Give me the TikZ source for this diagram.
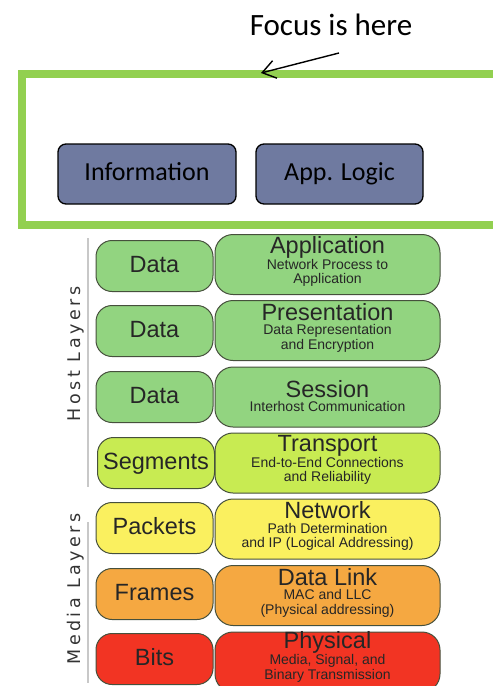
\documentclass[tikz,border=0pt]{standalone}
\usepackage{fontspec}
\setmainfont{Liberation Sans}
\newfontfamily\calibri{Carlito}
\newfontfamily\spacedsans[LetterSpace=20]{DejaVu Sans}
\usetikzlibrary{positioning,arrows.meta}

\definecolor{focusgreen}{RGB}{146,208,80}
\definecolor{slate}{RGB}{111,122,160}
\definecolor{hostgreen}{RGB}{146,212,128}
\definecolor{seggreen}{RGB}{200,235,82}
\definecolor{pktyellow}{RGB}{250,240,95}
\definecolor{frmorange}{RGB}{245,168,65}
\definecolor{bitred}{RGB}{242,52,35}
\definecolor{edgegray}{RGB}{70,80,60}
\definecolor{sidegray}{RGB}{200,200,200}

\begin{document}
\begin{tikzpicture}[
			x=1pt, y=-1pt,
			every node/.style={font=\calibri},
			appbox/.style={rectangle, rounded corners=8pt, draw=black, line width=1.3pt, fill=slate, minimum height=60pt, text height=17pt, text depth=5pt, font=\calibri\fontsize{26}{28}\selectfont},
			pdu/.style={rectangle, rounded corners=16pt, draw=edgegray, line width=1pt, minimum width=117pt, minimum height=51pt, text height=17pt, text depth=5pt, font=\fontsize{23.5}{24}\selectfont, text=black!85},
			layer/.style={rectangle, rounded corners=18pt, draw=edgegray, line width=1pt, minimum width=225pt, minimum height=60pt},
			layertext/.style={align=center, font=\fontsize{14}{14.5}\selectfont, text=black!85, inner sep=0pt},
			side/.style={rotate=90, font=\spacedsans\fontsize{17.5}{20}\selectfont, text=black!80}
			]
			
			\useasboundingbox (0,0) rectangle (493,686);
			
			% the upper part
			\node (focus) at (259.5,149.5) [draw=focusgreen, line width=8.5pt, minimum width=475pt, minimum height=151pt] {};
			\node (info) at (147,174) [appbox, minimum width=178pt] {Information};
			\node (logic) at (339.5,174) [appbox, minimum width=167pt] {App. Logic};
			
			\node (note) at (331,35) [anchor=base, font=\calibri\fontsize{31}{33}\selectfont] {Focus is here};
			\coordinate (tail) at (339,53);
			\coordinate (tip) at (261,73);
			\draw [-{Straight Barb[length=13pt,width=18pt]}, line width=1.4pt] (tail) -- (tip);
			
			% the OSI stack
			\node (d7) at (154.5,266) [pdu, fill=hostgreen] {Data};
			\node (l7) at (327.5,264.5) [layer, fill=hostgreen] {};
			\node (t7) at ([yshift=3pt]l7) [layertext] {{\fontsize{23.5}{24}\selectfont Application}\\Network Process to\\Application};
			
			\node (d6) at (154.5,331) [pdu, fill=hostgreen] {Data};
			\node (l6) at (327.5,330.5) [layer, fill=hostgreen] {};
			\node (t6) at ([yshift=3pt]l6) [layertext] {{\fontsize{23.5}{24}\selectfont Presentation}\\Data Representation\\and Encryption};
			
			\node (d5) at (154.5,397) [pdu, fill=hostgreen] {Data};
			\node (l5) at (327.5,397) [layer, fill=hostgreen] {};
			\node (t5) at ([yshift=1pt]l5) [layertext] {{\fontsize{23.5}{24}\selectfont Session}\\Interhost Communication};
			
			\node (d4) at (156,463) [pdu, fill=seggreen] {Segments};
			\node (l4) at (327.5,463) [layer, fill=seggreen] {};
			\node (t4) at ([yshift=3pt]l4) [layertext] {{\fontsize{23.5}{24}\selectfont Transport}\\End-to-End Connections\\and Reliability};
			
			\node (d3) at (154.5,528) [pdu, fill=pktyellow] {Packets};
			\node (l3) at (327.5,529) [layer, fill=pktyellow] {};
			\node (t3) at ([yshift=3pt]l3) [layertext] {{\fontsize{23.5}{24}\selectfont Network}\\Path Determination\\and IP (Logical Addressing)};
			
			\node (d2) at (154.5,594) [pdu, fill=frmorange] {Frames};
			\node (l2) at (327.5,595.5) [layer, fill=frmorange] {};
			\node (t2) at ([yshift=3pt]l2) [layertext] {{\fontsize{23.5}{24}\selectfont Data Link}\\MAC and LLC\\(Physical addressing)};
			
			\node (d1) at (154.5,659) [pdu, fill=bitred] {Bits};
			\node (l1) at (327.5,662) [layer, fill=bitred] {};
			\node (t1) at ([yshift=5pt]l1) [layertext] {{\fontsize{23.5}{24}\selectfont Physical}\\Media, Signal, and\\Binary Transmission};
			
			% side labels
			\coordinate (hosttop) at (88,238);
			\coordinate (hostbot) at (88,487);
			\coordinate (mediatop) at (88,522);
			\coordinate (mediabot) at (88,683);
			\draw [sidegray, line width=2pt] (hosttop) -- (hostbot);
			\draw [sidegray, line width=2pt] (mediatop) -- (mediabot);
			\node (host) at (76,354) [side] {Host Layers};
			\node (media) at (76,589) [side] {Media Layers};
			\end{tikzpicture}
\end{document}
